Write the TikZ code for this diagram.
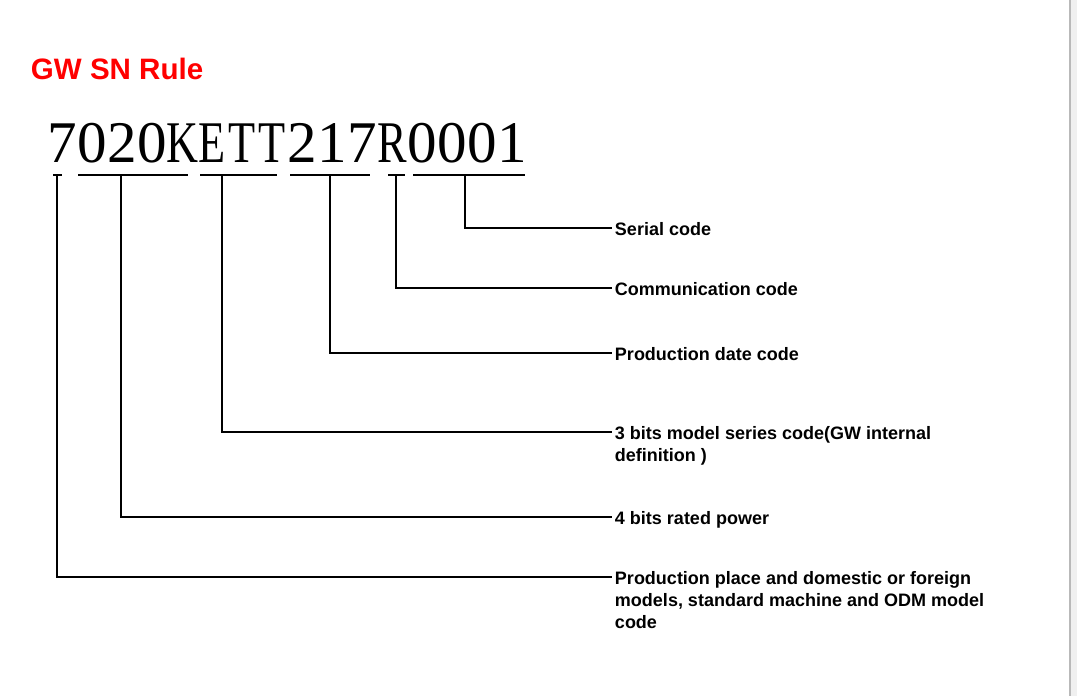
\documentclass[tikz,border=0pt]{standalone}
\usepackage{fontspec}
\setmainfont{Liberation Sans}
\newfontfamily\snfont{Liberation Serif}
\newfontfamily\snltr[FakeStretch=0.75]{Liberation Serif}
\usetikzlibrary{positioning}

\begin{document}
\begin{tikzpicture}[x=0.025cm,y=-0.025cm,line width=1.4pt,
  sn/.style={anchor=base,inner sep=0pt,font=\fontsize{42}{42}\selectfont\snfont},
  lbl/.style={anchor=north west,inner sep=0pt,align=left,font=\fontsize{12.8}{15.6}\selectfont\bfseries},
  conn/.style={line width=1.4pt}]
\useasboundingbox (0,0) rectangle (1077,696);
\fill[gray!12] (1071,0) rectangle (1077,696);
\draw[gray!55,line width=0.8pt] (1070,0) -- (1070,696);

\node[anchor=base west,inner sep=0pt,text=red,font=\fontsize{21}{25}\selectfont\bfseries] (title) at (30,79) {GW SN Rule};

% serial number, one char per cell
\foreach \c [count=\i] in {7,0,2,0,\snltr K,\snltr E,\snltr T,\snltr T,2,1,7,\snltr R,0,0,0,1}
  \node[sn] (sn\i) at ({62+30*(\i-1)},162) {\c};

% underlines
\draw (53,175) -- (62,175);
\draw (78,175) -- (188,175);
\draw (200,175) -- (277,175);
\draw (290,175) -- (370,175);
\draw (388,175) -- (405,175);
\draw (413,175) -- (525,175);
\coordinate (u1) at (57,175);
\coordinate (u2) at (121,175);
\coordinate (u3) at (222,175);
\coordinate (u4) at (330,175);
\coordinate (u5) at (396,175);
\coordinate (u6) at (465,175);

% labels (top of first line sits 6.8px above the connector)
\node[lbl] (serial) at (614,221.2) {Serial code};
\node[lbl] (comm)   at (614,281.2) {Communication code};
\node[lbl] (date)   at (614,346.2) {Production date code};
\node[lbl] (series) at (614,425.2) {3 bits model series code(GW internal\\definition )};
\node[lbl] (power)  at (614,510.2) {4 bits rated power};
\node[lbl] (place)  at (614,570.2) {Production place and domestic or foreign\\models, standard machine and ODM model\\code};

\draw[conn] (u6) |- ([shift={(-1.5pt,-4.8pt)}]serial.north west);
\draw[conn] (u5) |- ([shift={(-1.5pt,-4.8pt)}]comm.north west);
\draw[conn] (u4) |- ([shift={(-1.5pt,-4.8pt)}]date.north west);
\draw[conn] (u3) |- ([shift={(-1.5pt,-4.8pt)}]series.north west);
\draw[conn] (u2) |- ([shift={(-1.5pt,-4.8pt)}]power.north west);
\draw[conn] (u1) |- ([shift={(-1.5pt,-4.8pt)}]place.north west);
\end{tikzpicture}
\end{document}
